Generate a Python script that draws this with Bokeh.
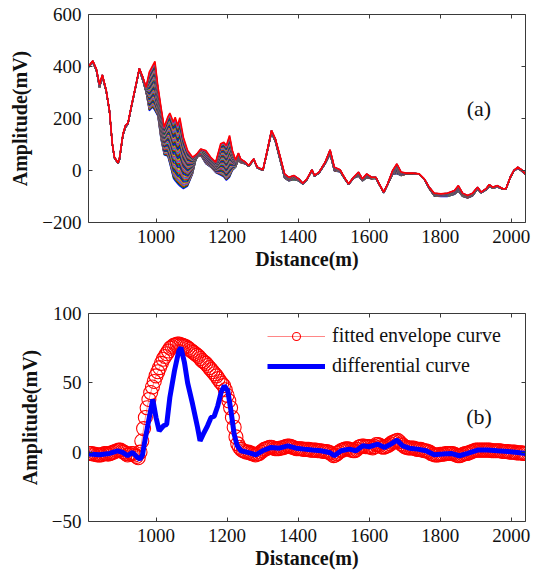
import numpy as np
from bokeh.plotting import figure
from bokeh.layouts import column
from bokeh.models import (LinearAxis, Range1d, FixedTicker, Legend, LegendItem,
                          Label, ColumnDataSource)
from bokeh.embed import file_html
from bokeh.resources import INLINE

# ---------------- panel (a): amplitude of every run along the line ----------------
dist_a = [810, 822, 832, 841, 849, 860, 869, 877, 883, 893,
          897, 907, 914, 921, 930, 944, 953, 963, 972, 981,
          991, 997, 1005, 1014, 1023, 1033, 1039, 1049, 1054, 1061,
          1067, 1077, 1089, 1103, 1112, 1117, 1126, 1140, 1154, 1168,
          1182, 1191, 1198, 1207, 1215, 1224, 1232, 1238, 1252, 1261,
          1275, 1285, 1301, 1313, 1325, 1336, 1350, 1362, 1374, 1388,
          1402, 1413, 1425, 1439, 1446, 1459, 1476, 1490, 1502, 1518,
          1530, 1542, 1556, 1570, 1581, 1593, 1607, 1619, 1628, 1641,
          1652, 1666, 1678, 1690, 1704, 1722, 1741, 1755, 1769, 1783,
          1802, 1821, 1840, 1851, 1863, 1877, 1891, 1905, 1915, 1929,
          1938, 1948, 1961, 1976, 1985, 1997, 2007, 2018, 2029, 2040]

# upper edge of the bundle (the last run, drawn in red)
amp_high = [400, 422, 391, 330, 368, 308, 231, 103, 51, 30,
            45, 141, 173, 182, 244, 333, 393, 359, 320, 378,
            404, 420, 327, 244, 167, 205, 221, 186, 205, 173,
            203, 128, 77, 51, 60, 67, 83, 77, 51, 32,
            103, 109, 96, 135, 77, 40, 67, 45, 32, 19,
            45, 13, 3, 77, 154, 122, 51, -13, -26, -19,
            -32, -49, -32, 3, -19, -6, 32, 80, 13, 3,
            -26, -51, -26, -6, -32, -13, -26, -26, -51, -83,
            -51, 0, 26, -6, -10, -10, -13, -32, -64, -87,
            -90, -87, -77, -58, -87, -96, -87, -64, -83, -70,
            -54, -64, -58, -70, -70, -26, 0, 13, 3, -13]

# lower edge of the bundle (the first run)
amp_low = [398, 415, 385, 318, 360, 302, 226, 100, 48, 27,
           40, 135, 165, 178, 238, 328, 388, 345, 301, 230,
           244, 230, 210, 120, 60, 55, 25, -30, -40, -51,
           -60, -70, -60, -13, 40, 52, 58, 26, 13, -8,
           -18, -25, -38, -26, 0, 12, 40, 30, 25, 15,
           40, 10, 0, 70, 145, 110, 35, -30, -40, -35,
           -40, -52, -36, 0, -22, -10, 25, 62, -2, -5,
           -30, -54, -30, -22, -40, -28, -32, -30, -54, -86,
           -55, -15, -12, -20, -14, -12, -15, -34, -70, -98,
           -100, -100, -92, -80, -100, -106, -98, -72, -86, -75,
           -62, -68, -64, -72, -72, -28, -3, 8, -2, -16]

n_runs = 48
run_colors = ["#0000ff", "#008000", "#ff0000", "#00bfbf", "#bf00bf", "#bfbf00", "#404040"]

# ---------------- panel (b): differential curve and its fitted envelope ----------------
dist_diff = [810, 841, 869, 892, 906, 920, 934, 948, 955, 962,
             967, 981, 991, 1000, 1009, 1021, 1030, 1039, 1052, 1064,
             1070, 1080, 1089, 1103, 1117, 1124, 1133, 1145, 1155, 1164,
             1174, 1183, 1192, 1202, 1211, 1220, 1228, 1239, 1258, 1281,
             1300, 1324, 1347, 1371, 1394, 1417, 1441, 1464, 1488, 1502,
             1521, 1544, 1563, 1582, 1600, 1624, 1643, 1661, 1678, 1694,
             1713, 1736, 1760, 1783, 1807, 1830, 1854, 1877, 1905, 1933,
             1961, 1990, 2018, 2040]
amp_diff = [-1.4, -1.9, -0.9, 1.0, -0.2, -2.6, -0.2, -3.8, -5.0, -2.0,
            5.8, 25.0, 38.0, 25.0, 15.4, 19.0, 20.0, 39.5, 58.7, 73.0,
            75.5, 64.7, 50.0, 34.6, 17.8, 8.2, 13.0, 19.0, 25.0, 26.0,
            33.5, 43.0, 47.9, 44.3, 29.8, 13.0, 5.0, 1.0, -0.2, -1.9,
            1.0, 3.4, 2.9, 4.6, 2.9, 2.2, 1.5, 1.0, -0.2, -2.6,
            1.0, 2.2, 1.0, 4.6, 3.9, 5.8, 3.4, 5.8, 8.7, 4.6,
            2.9, 2.2, 1.0, -1.9, -1.4, -0.9, -2.6, -0.9, 1.5, 1.5,
            1.0, 0.5, -0.2, -0.9]

# fitted envelope, sampled every 5 m from 810 m to 2040 m
dist_env = list(range(810, 2041, 5))
amp_env = [-1, -1, -1, -1.5, -1.5, -2, -2, -2, -1.5, -1,
           -1, -1.5, -1, -0.5, 0, 0.5, 1, 1.5, 1.5, 0.5,
           0, -1, -2, -1.5, -1, -1, -2, -3, -4, 0,
           8, 17, 25, 32, 38, 43, 47, 51, 55,
           58, 61, 64, 67, 69, 71, 73, 75, 76, 77,
           77.5, 78, 78, 77.5, 77, 76.5, 76, 75, 74, 73,
           72, 71, 70, 69, 67.5, 66, 65, 64, 62.5, 61,
           59.5, 58, 56.5, 55, 53, 51, 49.5, 48, 45, 41,
           37, 32, 25, 18, 11, 6, 3.5, 2, 1, 0.5,
           0, 0, -0.5, -1, -1.5, -2, -1.5, -1, 0, 1,
           2, 2.5, 3, 3.5, 3.5, 3, 2.5, 2.5, 2.5, 3,
           3, 3.5, 4, 4.5, 4.5, 4, 3.5, 3, 2.5, 2.5,
           2.5, 2.5, 2, 2, 2, 2, 1.5, 1.5, 1.5, 1.5,
           1, 1, 1, 0.5, 0.5, 0.5, 0, -0.5, -1.5, -2.5,
           -2, -1, 0, 1, 1.5, 2, 2.5, 2.5, 2, 1.5,
           1, 1, 2, 3.5, 4, 4.5, 4.5, 4, 4, 4,
           3.5, 3, 4, 5.5, 5.5, 5, 4, 3.5, 4, 4.5,
           5, 6, 7, 7.5, 8, 8.5, 7.5, 6, 5, 4,
           3.5, 3, 3, 3, 3, 2.5, 2, 2, 2, 1.5,
           1, 1, 0.5, 0, -1, -1.5, -2, -2, -2, -1.5,
           -1.5, -1.5, -1, -1, -1, -1, -1, -1.5, -2, -2.5,
           -2.5, -2, -1.5, -1, -1, -0.5, 0, 0.5, 1, 1.5,
           1.5, 1.5, 1.5, 1.5, 1.5, 1.5, 1.5, 1.5, 1, 1,
           1, 1, 1, 1, 0.5, 0.5, 0.5, 0.5, 0, 0,
           0, 0, -0.5, -0.5, -0.5, -0.5, -1, -1]

x_ticks = [1000, 1200, 1400, 1600, 1800, 2000]
y_ticks_a = [-200, 0, 200, 400, 600]
y_ticks_b = [-50, 0, 50, 100]

SERIF = "Liberation Serif"
BOX = "#3a3a3a"
INK = "#111111"


def style_axis(ax, ticks):
    ax.ticker = FixedTicker(ticks=ticks)
    ax.axis_line_color = BOX
    ax.axis_line_width = 1
    ax.major_tick_line_color = BOX
    ax.major_tick_in = 4
    ax.major_tick_out = 0
    ax.minor_tick_line_color = None
    ax.major_label_text_font = SERIF
    ax.major_label_text_font_size = "19px"
    ax.major_label_text_color = INK
    ax.major_label_standoff = 7
    ax.axis_label_text_font = SERIF
    ax.axis_label_text_font_size = "20px"
    ax.axis_label_text_font_style = "bold"
    ax.axis_label_text_color = INK


def make_panel(height, border_top, border_bottom, y_lim, y_ticks):
    p = figure(width=533, height=height,
               x_range=Range1d(810, 2040), y_range=Range1d(*y_lim),
               output_backend="svg", toolbar_location=None,
               min_border_left=88, min_border_right=8,
               min_border_top=border_top, min_border_bottom=border_bottom,
               background_fill_color="white", border_fill_color="white")
    p.grid.visible = False
    p.outline_line_color = None

    x_main = p.below[0]
    y_main = p.left[0]
    style_axis(x_main, x_ticks)
    style_axis(y_main, y_ticks)
    x_main.axis_label = "Distance(m)"
    x_main.axis_label_standoff = 2
    y_main.axis_label = "Amplitude(mV)"
    y_main.axis_label_standoff = 8

    # box ticks on top and right, without labels
    x_top = LinearAxis()
    y_right = LinearAxis()
    for ax, ticks in ((x_top, x_ticks), (y_right, y_ticks)):
        style_axis(ax, ticks)
        ax.major_label_text_color = None
        ax.major_label_text_font_size = "1px"
        ax.major_label_standoff = 0
    p.add_layout(x_top, "above")
    p.add_layout(y_right, "right")
    return p


# ---------- panel (a) ----------
pa = make_panel(290, 14, 68, (-200, 600), y_ticks_a)

lo = np.array(amp_low, dtype=float)
hi = np.array(amp_high, dtype=float)
xs_runs, ys_runs, cs_runs = [], [], []
for k in range(n_runs - 1):
    frac = k / (n_runs - 1)
    xs_runs.append(dist_a)
    ys_runs.append(list(lo + frac * (hi - lo)))
    cs_runs.append(run_colors[k % len(run_colors)])
pa.multi_line(xs=xs_runs, ys=ys_runs, line_color=cs_runs, line_width=1.3)
pa.line(dist_a, amp_high, line_color="#ff0000", line_width=1.6)

pa.add_layout(Label(x=1909, y=238, text="(a)", text_align="center",
                    text_baseline="middle", text_font=SERIF,
                    text_font_size="22px", text_color=INK))

# ---------- panel (b) ----------
pb = make_panel(286, 23, 55, (-50, 100), y_ticks_b)

env_src = ColumnDataSource(dict(x=dist_env, y=amp_env))
env_line = pb.line("x", "y", source=env_src, line_color="#ff0000",
                   line_width=0.8, line_alpha=0.6)
env_pts = pb.scatter("x", "y", source=env_src, marker="circle", size=14,
                     fill_color=None, line_color="#ff0000", line_width=1.1)
diff_line = pb.line(dist_diff, amp_diff, line_color="#0000ff", line_width=5)

legend = Legend(items=[LegendItem(label="fitted envelope curve", renderers=[env_line, env_pts]),
                       LegendItem(label="differential curve", renderers=[diff_line])],
                location=(179, 144), orientation="vertical",
                border_line_color=None, background_fill_alpha=0,
                label_text_font=SERIF, label_text_font_size="20px",
                label_text_color=INK, glyph_width=58, glyph_height=20,
                label_height=20, spacing=7, padding=0, margin=0,
                label_standoff=7)
pb.add_layout(legend)

pb.add_layout(Label(x=1909, y=26, text="(b)", text_align="center",
                    text_baseline="middle", text_font=SERIF,
                    text_font_size="22px", text_color=INK))

layout = column(pa, pb, spacing=0)
open("out.html", "w").write(file_html(layout, INLINE))
